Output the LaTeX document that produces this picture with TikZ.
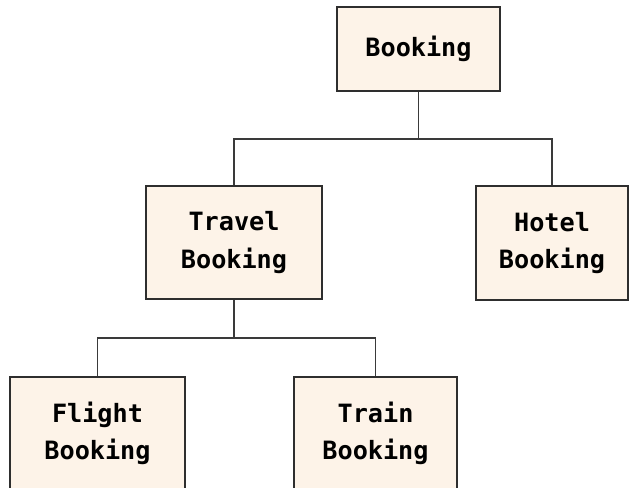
\documentclass[tikz,border=0pt]{standalone}
\usepackage{fontspec}
\setmonofont{DejaVu Sans Mono}
\definecolor{boxfill}{HTML}{FDF3E8}
\definecolor{boxline}{HTML}{2E2E2E}
\definecolor{wire}{HTML}{3A3A3A}

\begin{document}
\begin{tikzpicture}[x=0.03cm, y=-0.03cm,
  every node/.style={draw=boxline, fill=boxfill, line width=1.1pt, align=center, inner sep=0pt,
    font=\ttfamily\bfseries\fontsize{21.5}{32}\selectfont},
  wire/.style={draw=wire, line width=1.5pt}]
  \useasboundingbox (0,0) rectangle (629,488);
  \clip (0,0) rectangle (629,488);
  \node[minimum width=4.89cm, minimum height=2.52cm] (booking) at (418.5,49) {Booking};
  \node[minimum width=5.28cm, minimum height=3.39cm] (travel) at (234,242.5) {Travel\\Booking};
  \node[minimum width=4.56cm, minimum height=3.42cm] (hotel) at (552,243) {Hotel\\Booking};
  \node[minimum width=5.25cm, minimum height=3.39cm] (flight) at (97.5,433.5) {Flight\\Booking};
  \node[minimum width=4.89cm, minimum height=3.39cm] (train) at (375.5,433.5) {Train\\Booking};
  \coordinate (topbus) at (418.5,139);
  \coordinate (lowbus) at (234,338);
  % Draw the hierarchy
  \draw[wire] (booking) -- (topbus);
  \draw[wire] (travel) |- (topbus) -| (hotel);
  \draw[wire] (travel) -- (lowbus);
  \draw[wire] (flight) |- (lowbus) -| (train);
\end{tikzpicture}
\end{document}
